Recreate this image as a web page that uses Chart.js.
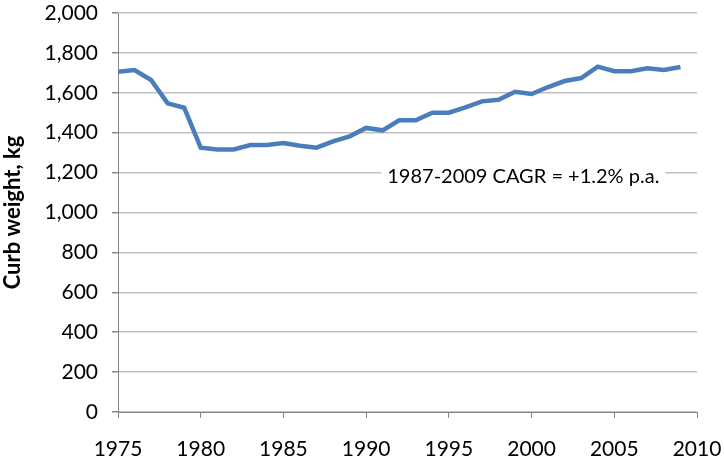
<!DOCTYPE html>
<html>
<head>
<meta charset="utf-8">
<script src="https://cdn.jsdelivr.net/npm/chart.js@4/dist/chart.umd.min.js"></script>
<style>
  html, body { margin: 0; padding: 0; background: #fff; }
  #wrap { width: 724px; height: 463px; }
</style>
</head>
<body>
<div id="wrap"><canvas id="chart" width="724" height="463"></canvas></div>
<script>
const years = [1975, 1976, 1977, 1978, 1979, 1980, 1981, 1982, 1983, 1984, 1985, 1986,
  1987, 1988, 1989, 1990, 1991, 1992, 1993, 1994, 1995, 1996, 1997, 1998, 1999, 2000,
  2001, 2002, 2003, 2004, 2005, 2006, 2007, 2008, 2009];
const curbWeight = [1705, 1714, 1664, 1547, 1525, 1325, 1316, 1316, 1338, 1338, 1348, 1335,
  1325, 1357, 1382, 1424, 1412, 1462, 1462, 1500, 1500, 1527, 1557, 1565, 1605, 1594,
  1629, 1659, 1674, 1731, 1708, 1708, 1723, 1714, 1729];
const yTitle = "Curb weight, kg";
const noteText = "1987-2009 CAGR = +1.2% p.a.";
const notePos = { x: 1999.5, y: 1180 };

const FONT = "Lato, 'Liberation Sans', sans-serif";
Chart.defaults.font.family = FONT;
Chart.defaults.color = "#000";

const notePlugin = {
  id: "note",
  afterDatasetsDraw(chart) {
    const { ctx, scales } = chart;
    const px = scales.x.getPixelForValue(notePos.x);
    const py = scales.y.getPixelForValue(notePos.y);
    ctx.save();
    ctx.font = "20px " + FONT;
    const w = ctx.measureText(noteText).width;
    ctx.fillStyle = "#fff";
    ctx.fillRect(px - w / 2 - 6, py - 12, w + 12, 24);
    ctx.fillStyle = "#000";
    ctx.textAlign = "center";
    ctx.textBaseline = "middle";
    ctx.fillText(noteText, px, py);
    ctx.restore();
  },
};

new Chart(document.getElementById("chart"), {
  type: "line",
  data: {
    datasets: [{
      data: years.map((y, i) => ({ x: y, y: curbWeight[i] })),
      borderColor: "#4a7ebb",
      borderWidth: 4.5,
      pointRadius: 0,
      tension: 0,
    }],
  },
  options: {
    responsive: false,
    animation: false,
    layout: { padding: { top: 13, right: 27, left: 0, bottom: 0 } },
    plugins: { legend: { display: false }, tooltip: { enabled: false } },
    scales: {
      x: {
        type: "linear",
        min: 1975,
        max: 2010,
        ticks: { stepSize: 5, padding: 19, font: { size: 21 }, callback: (v) => String(v) },
        grid: { drawOnChartArea: false, tickLength: 6, color: "#868686" },
        border: { color: "#868686", width: 1 },
        afterFit: (s) => { s.height = 51; s.paddingLeft = 0; s.paddingRight = 0; },
      },
      y: {
        min: 0,
        max: 2000,
        ticks: { stepSize: 200, padding: 14, font: { size: 21 },
          callback: (v) => v.toLocaleString("en-US") },
        grid: { color: "#c0c0c0", lineWidth: 1.5, tickLength: 6, tickColor: "#868686" },
        border: { color: "#868686", width: 1 },
        title: { display: true, text: yTitle, font: { size: 22, weight: "bold" }, padding: { top: 0, bottom: 4 } },
        afterFit: (s) => { s.width = 118; s.paddingTop = 0; s.paddingBottom = 0; },
      },
    },
  },
  plugins: [notePlugin],
});
</script>
</body>
</html>
